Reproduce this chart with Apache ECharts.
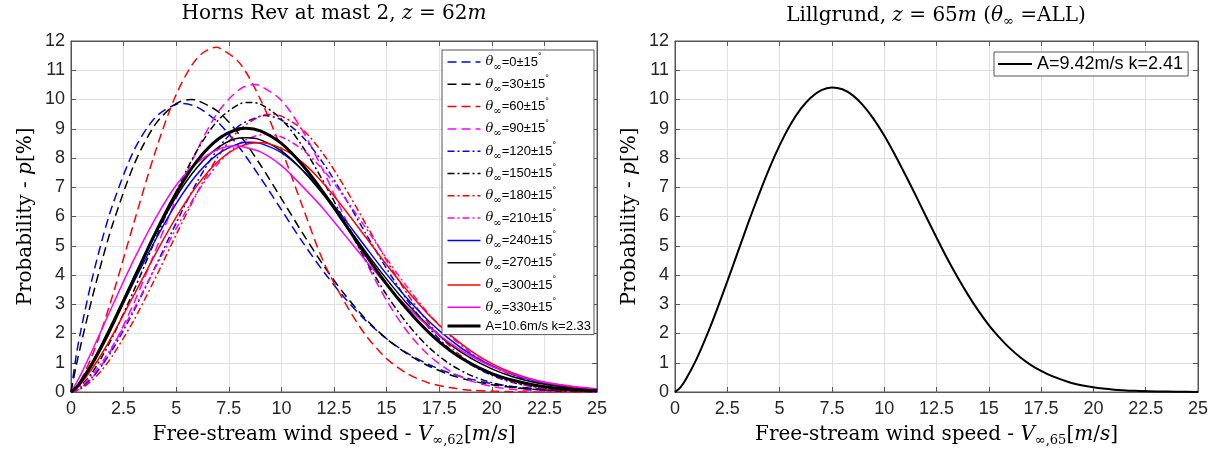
<!DOCTYPE html>
<html><head><meta charset="utf-8">
<script src="https://cdn.jsdelivr.net/npm/echarts@6/dist/echarts.min.js"></script>
<style>html,body{margin:0;padding:0;background:#fff}#c{width:1230px;height:452px}</style>
</head><body><div id="c"></div>
<script>
// ---- data ----
const speeds = [0,0.25,0.5,1,1.5,2,3,4,5,6,7,8,9,10,11,12,13,14,15,16,17,18,19,20,21,22,23,24,25];
const xTickLabels = ['0','2.5','5','7.5','10','12.5','15','17.5','20','22.5','25'];
const yTickLabels = ['0','1','2','3','4','5','6','7','8','9','10','11','12'];
const sectorDeg = [0,30,60,90,120,150,180,210,240,270,300,330];
const p000 = [0,1.26,2.22,3.86,5.26,6.45,8.27,9.38,9.84,9.74,9.21,8.36,7.33,6.23,5.13,4.12,3.22,2.45,1.82,1.32,0.94,0.65,0.44,0.29,0.19,0.12,0.08,0.05,0.03];
const p030 = [0,0.91,1.71,3.20,4.56,5.78,7.78,9.14,9.86,9.97,9.58,8.80,7.77,6.61,5.44,4.33,3.34,2.50,1.82,1.29,0.89,0.59,0.39,0.25,0.15,0.09,0.05,0.03,0.02];
const p060 = [0,0.16,0.45,1.23,2.22,3.35,5.81,8.20,10.17,11.42,11.78,11.26,10.01,8.30,6.35,4.45,3.08,1.95,1.14,0.62,0.31,0.15,0.06,0.03,0.01,0,0,0,0];
const p090 = [0,0.04,0.15,0.48,0.96,1.56,3.06,4.81,6.62,8.28,9.58,10.34,10.47,9.97,8.94,7.55,5.99,4.47,3.13,2.05,1.26,0.72,0.38,0.19,0.09,0.04,0.01,0.01,0];
const p120 = [0,0.05,0.16,0.49,0.94,1.48,2.79,4.27,5.78,7.19,8.33,9.11,9.43,9.30,8.73,7.81,6.67,5.43,4.22,3.12,2.20,1.47,0.94,0.57,0.32,0.18,0.09,0.04,0.02];
const p150 = [0,0.08,0.23,0.66,1.24,1.92,3.49,5.19,6.84,8.27,9.30,9.84,9.84,9.33,8.40,7.19,5.85,4.52,3.32,2.32,1.53,0.96,0.57,0.32,0.17,0.09,0.04,0.02,0.01];
const p180 = [0,0.04,0.12,0.40,0.78,1.27,2.47,3.88,5.38,6.82,8.06,8.96,9.43,9.43,8.98,8.13,7.01,5.76,4.50,3.34,2.35,1.57,0.99,0.60,0.34,0.18,0.09,0.04,0.02];
const p210 = [0,0.07,0.21,0.58,1.05,1.60,2.86,4.24,5.59,6.82,7.81,8.49,8.79,8.72,8.29,7.58,6.65,5.62,4.56,3.57,2.68,1.93,1.34,0.89,0.57,0.35,0.21,0.12,0.06];
const p240 = [0,0.17,0.41,0.98,1.63,2.33,3.78,5.18,6.44,7.45,8.14,8.50,8.50,8.18,7.59,6.81,5.91,4.96,4.03,3.18,2.43,1.80,1.29,0.90,0.60,0.39,0.25,0.15,0.09];
const p270 = [0,0.18,0.43,1.02,1.70,2.43,3.93,5.38,6.67,7.68,8.36,8.68,8.62,8.24,7.58,6.74,5.79,4.80,3.86,3.00,2.26,1.64,1.16,0.79,0.52,0.33,0.21,0.12,0.07];
const p300 = [0,0.12,0.31,0.79,1.35,1.98,3.33,4.70,5.98,7.07,7.89,8.38,8.52,8.33,7.85,7.13,6.25,5.30,4.35,3.45,2.64,1.96,1.41,0.97,0.65,0.42,0.27,0.16,0.09];
const p330 = [0,0.30,0.65,1.41,2.20,3.00,4.54,5.92,7.07,7.84,8.30,8.41,8.21,7.74,7.03,6.26,5.38,4.50,3.66,2.90,2.23,1.68,1.23,0.87,0.61,0.41,0.27,0.18,0.11];
const pAllHR = [0,0.15,0.38,0.95,1.61,2.34,3.89,5.42,6.80,7.91,8.65,9.00,8.93,8.50,7.76,6.82,5.77,4.70,3.69,2.80,2.04,1.43,0.97,0.63,0.40,0.24,0.14,0.08,0.05];
// peak (mode) of each Horns Rev curve: sectors 0..330, then overall
const peakSpeed = [5.30,5.70,6.90,8.70,9.20,8.50,9.50,9.30,8.50,8.35,8.92,7.85,8.33];
const peakProb  = [9.86,10.00,11.79,10.51,9.45,9.90,9.50,8.80,8.54,8.69,8.52,8.42,9.02];
// Lillgrund curve
const lillSpeeds = [0,0.25,0.5,1,1.5,2,2.5,3,3.5,4,4.5,5,5.5,6,6.5,7,7.5,8,8.5,9,9.5,10,10.5,11,11.5,12,12.5,13,13.5,14,14.5,15,15.5,16,16.5,17,17.5,18,19,20,21,22,23,24,25];
const pLill = [0,0.15,0.41,1.08,1.90,2.81,3.78,4.78,5.78,6.73,7.63,8.43,9.12,9.67,10.07,10.32,10.41,10.35,10.14,9.79,9.33,8.77,8.13,7.44,6.73,6.00,5.28,4.58,3.93,3.33,2.78,2.29,1.87,1.50,1.19,0.93,0.72,0.55,0.30,0.16,0.08,0.04,0.02,0.01,0];
const allHRName = 'A=10.6m/s k=2.33';
const lillName = 'A=9.42m/s k=2.41';

// ---- styling ----
const sectorValues = [p000,p030,p060,p090,p120,p150,p180,p210,p240,p270,p300,p330];
const colors = ['#0000ff','#000000','#ff0000','#ff00ff'];
const dashes = [[9,5],[7,3,2,3],'solid'];
const axisCol = '#555';
const txtCol = '#262626';
const gridCol = '#e0e0e0';
const serif = 'DejaVu Serif';
const sans = 'Liberation Sans';
const SMOOTH = 0.3;

function pairs(vals, k){
  const pts = speeds.map((v,i)=>[v, vals[i]]);
  pts.push([peakSpeed[k], peakProb[k]]);
  pts.sort((a,b)=>a[0]-b[0]);
  return pts;
}

const series = [];
sectorDeg.forEach((d,i)=>{
  series.push({
    name: String(d), type:'line', xAxisIndex:0, yAxisIndex:0,
    data: pairs(sectorValues[i], i), symbol:'none', smooth:SMOOTH,
    lineStyle:{color:colors[i%4], width:1.5, type:dashes[Math.floor(i/4)]},
    itemStyle:{color:colors[i%4]}, z:2
  });
});
series.push({name:allHRName, type:'line', xAxisIndex:0, yAxisIndex:0, data:pairs(pAllHR, 12),
  symbol:'none', smooth:SMOOTH, lineStyle:{color:'#000', width:3, type:'solid'}, itemStyle:{color:'#000'}, z:3});
series.push({name:lillName, type:'line', xAxisIndex:2, yAxisIndex:2, data:lillSpeeds.map((v,i)=>[v,pLill[i]]),
  symbol:'none', smooth:SMOOTH, lineStyle:{color:'#000', width:2, type:'solid'}, itemStyle:{color:'#000'}, z:3});

const nameRich = {
  r:{fontFamily:serif, fontSize:20, color:'#000', lineHeight:24},
  i:{fontFamily:serif, fontStyle:'italic', fontSize:20, color:'#000', lineHeight:24},
  s:{fontFamily:serif, fontSize:13, color:'#000', lineHeight:13, verticalAlign:'bottom'}
};

function xAx(grid, top, nameTxt){
  return {
    gridIndex:grid, type:'value', min:0, max:25, interval:2.5,
    position: top ? 'top' : 'bottom',
    axisLine:{show:true, onZero:false, lineStyle:{color:axisCol, width:1}},
    axisTick:{show:true, inside:true, length:5, lineStyle:{color:axisCol}},
    axisLabel:{show:!top, margin:8, fontFamily:sans, fontSize:18, color:txtCol,
      formatter: v => xTickLabels[Math.round(v/2.5)]},
    splitLine:{show:!top, lineStyle:{color:gridCol, width:1}},
    name: top ? '' : nameTxt, nameLocation:'middle', nameGap:31,
    nameTextStyle:{fontFamily:serif, fontSize:20, color:'#000', rich:nameRich}
  };
}
function yAx(grid, right){
  return {
    gridIndex:grid, type:'value', min:0, max:12, interval:1,
    position: right ? 'right' : 'left',
    axisLine:{show:true, onZero:false, lineStyle:{color:axisCol, width:1}},
    axisTick:{show:true, inside:true, length:5, lineStyle:{color:axisCol}},
    axisLabel:{show:!right, margin:6, fontFamily:sans, fontSize:18, color:txtCol,
      formatter: v => yTickLabels[Math.round(v)]},
    splitLine:{show:!right, lineStyle:{color:gridCol, width:1}},
    name: right ? '' : '{r|Probability - }{i|p}{r|[%]}', nameLocation:'middle', nameGap:33,
    nameTextStyle:{fontFamily:serif, fontSize:20, color:'#000', rich:nameRich}
  };
}

const legendRich = {
  th:{fontFamily:serif, fontStyle:'italic', fontSize:13, lineHeight:20, color:'#000'},
  sub:{fontFamily:serif, fontSize:10, lineHeight:10, verticalAlign:'bottom', color:'#000'},
  t:{fontFamily:sans, fontSize:13, lineHeight:20, color:'#000'},
  deg:{fontFamily:sans, fontSize:9, lineHeight:9, verticalAlign:'top', color:'#000'}
};

const option = {
  animation:false,
  backgroundColor:'#fff',
  title:[
    {text:'Horns Rev at mast 2, {i|z} = 62{i|m}', left:334, top:4, textAlign:'center', textVerticalAlign:'top', padding:0,
     textStyle:{fontFamily:serif, fontSize:20, fontWeight:'normal', color:'#000',
       rich:{i:{fontFamily:serif, fontStyle:'italic', fontSize:20, color:'#000'}}}},
    {text:'Lillgrund, {i|z} = 65{i|m} ({i|θ}{s|∞} =ALL)', left:936, top:4, textAlign:'center', textVerticalAlign:'top', padding:0,
     textStyle:{fontFamily:serif, fontSize:20, fontWeight:'normal', color:'#000',
       rich:{i:{fontFamily:serif, fontStyle:'italic', fontSize:20, color:'#000', lineHeight:24},
             s:{fontFamily:serif, fontSize:13, color:'#000', lineHeight:13, verticalAlign:'bottom'}}}}
  ],
  grid:[
    {left:71, top:41, width:526, height:353, show:true, borderColor:axisCol, borderWidth:1, backgroundColor:'transparent'},
    {left:675, top:41, width:523, height:353, show:true, borderColor:axisCol, borderWidth:1, backgroundColor:'transparent'}
  ],
  xAxis:[
    xAx(0,false,'{r|Free-stream wind speed - }{i|V}{s|∞,62}{r|[}{i|m}{r|/}{i|s}{r|]}'),
    xAx(0,true,''),
    xAx(1,false,'{r|Free-stream wind speed - }{i|V}{s|∞,65}{r|[}{i|m}{r|/}{i|s}{r|]}'),
    xAx(1,true,'')
  ],
  yAxis:[ yAx(0,false), yAx(0,true), yAx(1,false), yAx(1,true) ],
  legend:[
    {data: sectorDeg.map(String).concat([allHRName]), orient:'vertical', left:442, top:50,
     itemWidth:33, itemHeight:12, itemGap:2.3, padding:[2,3,2,4], selectedMode:false,
     backgroundColor:'#fff', borderColor:axisCol, borderWidth:1,
     itemStyle:{opacity:0}, lineStyle:{width:'inherit'},
     formatter: n => n===allHRName ? '{t|'+n+'}' : '{th|θ}{sub|∞}{t|='+n+'±15}{deg|°}',
     textStyle:{fontFamily:sans, fontSize:13, color:'#000', rich:legendRich}},
    {data:[lillName], orient:'vertical', left:994, top:52, itemWidth:34, itemHeight:12,
     padding:[3,5,3,3], selectedMode:false, backgroundColor:'#fff', borderColor:axisCol, borderWidth:1,
     itemStyle:{opacity:0}, lineStyle:{width:'inherit'},
     textStyle:{fontFamily:sans, fontSize:18, color:'#000'}}
  ],
  series: series
};
const chart = echarts.init(document.getElementById('c'), null, {renderer:'canvas'});
chart.setOption(option);
</script></body></html>
